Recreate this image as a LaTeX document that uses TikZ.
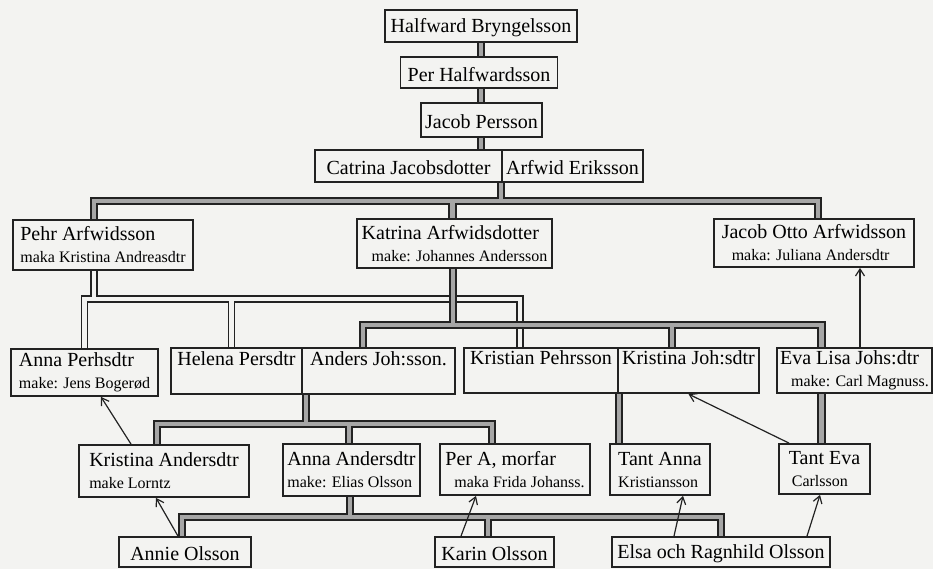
\documentclass[tikz,border=0pt]{standalone}
\usepackage{fontspec}
\setmainfont{Liberation Serif}
\usetikzlibrary{arrows.meta}
\usetikzlibrary{backgrounds}
\definecolor{ink}{HTML}{222222}
\definecolor{paper}{HTML}{F3F3F1}
\definecolor{shade}{HTML}{A6A6A6}
\newcommand{\spouse}[1]{{\fontsize{16}{17}\selectfont #1}}
\tikzset{
    person/.style={
        draw=ink,
        fill=paper,
        line width=1.8pt,
        inner sep=3pt,
        align=left,
        font=\fontsize{20}{22}\selectfont,
        execute at begin node=\rule{0pt}{18pt}
    },
    boxsize/.style 2 args={
        minimum width=#1pt,
        minimum height=#2pt
    },
    famline/.style={
        draw=ink,
        line width=1.8pt,
        double=shade,
        double distance=4.5pt
    },
    lightline/.style={
        draw=ink,
        line width=1.4pt,
        double=paper,
        double distance=4.5pt
    },
    refarrow/.style={
        draw=ink,
        line width=1.2pt,
        -{Straight Barb[length=7pt, width=9pt]}
    }
}

\begin{document}
\begin{tikzpicture}[x=1pt, y=-1pt]
  \useasboundingbox (0,0) rectangle (933,569);

  % line of Halfward
  \node[person, boxsize={192}{32}] (hb) at (481,26) {Halfward Bryngelsson};
  \node[person, boxsize={157}{31}] (ph) at (479,72.5) {Per Halfwardsson};
  \node[person, boxsize={121}{34}] (jp) at (481.5,120) {Jacob Persson};
  \node[person, boxsize={187}{32}] (cj) at (408.5,166) {Catrina Jacobsdotter};
  \node[person, boxsize={141}{32}] (ae) at (572.5,166) {Arfwid Eriksson};

  % children of Catrina and Arfwid
  \node[person, boxsize={180}{50}] (pa) at (103,245)
    {Pehr Arfwidsson\\\spouse{maka Kristina Andreasdtr}};
  \node[person, boxsize={195}{49}] (ka) at (454.5,243.5)
    {Katrina Arfwidsdotter\\\hspace*{10pt}\spouse{make: Johannes Andersson}};
  \node[person, boxsize={200}{48}] (jo) at (814,243)
    {Jacob Otto Arfwidsson\\\hspace*{10pt}\spouse{maka: Juliana Andersdtr}};

  % grandchildren
  \node[person, boxsize={147}{47}] (ap) at (84.5,372.5)
    {Anna Perhsdtr\\\spouse{make: Jens Bogerød}};
  \node[person, boxsize={131}{46}] (hp) at (236.5,371)
    {Helena Persdtr\\\spouse{\vphantom{kg}}};
  \node[person, boxsize={153}{46}] (aj) at (378.5,371)
    {Anders Joh:sson.\\\spouse{\vphantom{kg}}};
  \node[person, boxsize={154}{45}] (kp) at (541,370.5)
    {Kristian Pehrsson\\\spouse{\vphantom{kg}}};
  \node[person, boxsize={141}{45}] (kj) at (688.5,370.5)
    {Kristina Joh:sdtr\\\spouse{\vphantom{kg}}};
  \node[person, boxsize={155}{45}] (el) at (854.5,370.5)
    {Eva Lisa Johs:dtr\\\hspace*{11pt}\spouse{make: Carl Magnuss.}};

  % next generation
  \node[person, boxsize={170}{52}] (kd) at (164,471)
    {Kristina Andersdtr\\\spouse{make Lorntz}};
  \node[person, boxsize={137}{52}] (aa) at (351.5,470)
    {Anna Andersdtr\\\spouse{make: Elias Olsson}};
  \node[person, boxsize={150}{51}] (pm) at (515,469.5)
    {Per A, morfar\\\hspace*{9pt}\spouse{maka Frida Johanss.}};
  \node[person, boxsize={100}{51}] (ta) at (660,469.5)
    {Tant Anna\\\spouse{Kristiansson}};
  \node[person, boxsize={91}{50}] (te) at (824.5,469)
    {Tant Eva\\\hspace*{3pt}\spouse{Carlsson}};

  \node[person, boxsize={132}{30}] (ao) at (185,552) {Annie Olsson};
  \node[person, boxsize={119}{30}] (ko) at (494.5,552) {Karin Olsson};
  \node[person, boxsize={218}{30}] (er) at (721,552) {Elsa och Ragnhild Olsson};

  \begin{scope}[on background layer]
    \fill[paper] (0,0) rectangle (933,569);

    \foreach \a/\b in {hb/ph, ph/jp, jp/cj}
      \draw[famline] (hb.south |- \a.south) -- (hb.south |- \b.north);

    % Catrina + Arfwid
    \path (ae.south west) ++(0,18) coordinate (bar1);
    \draw[famline] (ae.south west) -- (bar1)
      ([xshift=-9pt]pa.north) |- (bar1)
      ([xshift=-2pt]ka.north) |- (bar1)
      ([xshift=4pt]jo.north) |- (bar1);

    % Pehr
    \path ([xshift=-9pt]pa.south) ++(0,28) coordinate (bar2);
    \draw[lightline] ([xshift=-9pt]pa.south) -- (bar2)
      (ap.north) |- (bar2)
      ([xshift=-5pt]hp.north) |- (bar2)
      ([xshift=-21pt]kp.north) |- (bar2);

    % Katrina
    \path ([xshift=-1.5pt]ka.south) ++(0,56) coordinate (bar3);
    \draw[famline] ([xshift=-1.5pt]ka.south) -- (bar3)
      ([xshift=-15.5pt]aj.north) |- (bar3)
      ([xshift=-16.5pt]kj.north) |- (bar3)
      ([xshift=-33pt]el.north) |- (bar3);

    % Helena + Anders
    \path ([xshift=3pt]hp.south east) ++(0,29) coordinate (bar4);
    \draw[famline] ([xshift=3pt]hp.south east) -- (bar4)
      ([xshift=-7pt]kd.north) |- (bar4)
      ([xshift=-2.5pt]aa.north) |- (bar4)
      ([xshift=-23pt]pm.north) |- (bar4);

    % Anna Andersdtr
    \path ([xshift=-1.5pt]aa.south) ++(0,20) coordinate (bar5);
    \draw[famline] ([xshift=-1.5pt]aa.south) -- (bar5)
      ([xshift=-3pt]ao.north) |- (bar5)
      ([xshift=-6.5pt]ko.north) |- (bar5)
      (er.north) |- (bar5);

    \draw[famline] (kp.south east) -- (kp.south east |- ta.north);
    \draw[famline] ([xshift=-33pt]el.south) -- ([xshift=-3pt]te.north);
  \end{scope}

  % references
  \foreach \a/\sa/\b/\sb in {kd/-33/ap/16.5, ao/-7/kd/-8, ko/-33.5/pm/-39,
      er/-47/ta/23, er/86/te/-4.5, te/-35.5/kj/0, el/5.5/jo/46}
    \draw[refarrow] ([xshift=\sa pt]\a.north) -- ([xshift=\sb pt]\b.south);
\end{tikzpicture}
\end{document}
